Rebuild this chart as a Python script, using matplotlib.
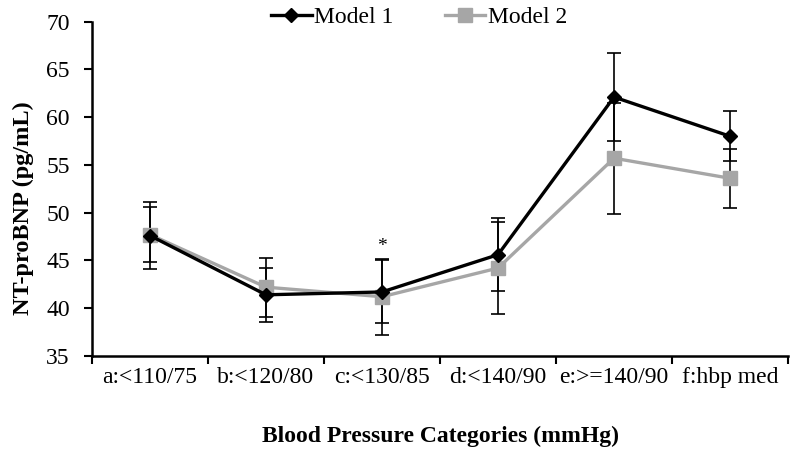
import numpy as np
import matplotlib
matplotlib.use('Agg')
import matplotlib.pyplot as plt

plt.rcParams['font.family'] = ['Liberation Serif', 'DejaVu Serif']

# Datos
categories = ['a:<110/75', 'b:<120/80', 'c:<130/85', 'd:<140/90', 'e:>=140/90', 'f:hbp med']
model1 = [47.6, 41.4, 41.7, 45.6, 62.1, 58.0]
model1_err = [3.5, 2.8, 3.3, 3.8, 4.6, 2.6]
model2 = [47.7, 42.2, 41.2, 44.2, 55.7, 53.6]
model2_err = [2.9, 3.1, 4.0, 4.8, 5.8, 3.1]
star_cat = 2
star_y = 46.5

x = np.arange(len(categories)) + 0.5

fig = plt.figure(figsize=(8, 4.5), dpi=100)
ax = fig.add_axes([0.115, 0.209, 0.87, 0.743])

ax.errorbar(x, model1, yerr=model1_err, fmt='none', ecolor='black',
            elinewidth=1.2, capsize=5, capthick=1.2, zorder=2)
ax.errorbar(x, model2, yerr=model2_err, fmt='none', ecolor='black',
            elinewidth=1.2, capsize=5, capthick=1.2, zorder=2)
ax.plot(x, model1, color='black', linewidth=2.4, marker='D', markersize=7,
        zorder=4, label='Model 1')
ax.plot(x, model2, color='#a6a6a6', linewidth=2.4, marker='s', markersize=10,
        zorder=3, label='Model 2')

ax.text(x[star_cat], star_y, '*', ha='center', va='center', fontsize=14)

ax.set_xlim(0, len(categories))
ax.set_ylim(35, 70)
ax.set_yticks(np.arange(35, 71, 5))
ax.set_xticks(np.arange(0, len(categories) + 1))
ax.set_xticklabels([])
ax.set_xticks(x, minor=True)
ax.set_xticklabels(categories, minor=True)
ax.tick_params(axis='x', which='minor', length=0, pad=8, labelsize=17)
ax.tick_params(axis='x', which='major', length=6, width=1.5, direction='out')
ax.tick_params(axis='y', length=6, width=1.5, direction='out', labelsize=17, pad=10)

for side in ['top', 'right']:
    ax.spines[side].set_visible(False)
for side in ['left', 'bottom']:
    ax.spines[side].set_linewidth(1.8)

ax.set_ylabel('NT-proBNP (pg/mL)', fontsize=17.5, fontweight='bold')
ax.yaxis.set_label_coords(-0.084, 0.443)
ax.set_xlabel('Blood Pressure Categories (mmHg)', fontsize=17, fontweight='bold', labelpad=27)

fig.legend(loc='center', bbox_to_anchor=(0.524, 0.962), ncol=2, frameon=False,
           fontsize=17, handlelength=1.7, columnspacing=2.2, handletextpad=0.1)

plt.savefig('out.png', dpi=100)
plt.close()
